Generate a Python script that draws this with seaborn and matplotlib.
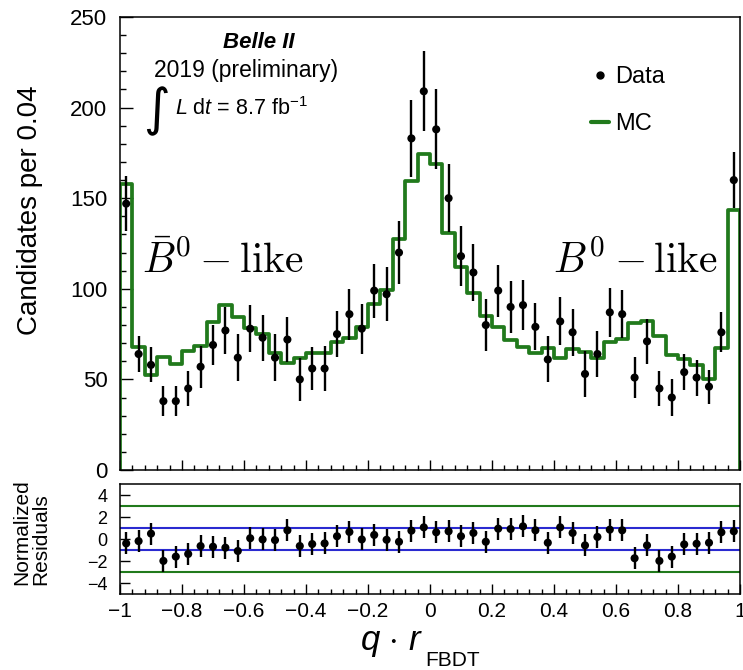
import numpy as np
import pandas as pd
import matplotlib
matplotlib.use("Agg")
import matplotlib.pyplot as plt
import seaborn as sns
from matplotlib.lines import Line2D
from matplotlib.ticker import MultipleLocator, FixedLocator

# ---- binning of q*r_FBDT ----
bin_lo, bin_hi, n_bins = -1.0, 1.0, 50

# ---- candidates per bin (data) and their uncertainties ----
data_counts = [147, 64, 58, 38, 38, 45, 57, 69, 77, 62,
               78, 73, 62, 72, 50, 56, 56, 75, 86, 78,
               99, 97, 120, 183, 209, 188, 150, 118, 109, 80,
               99, 90, 91, 79, 61, 82, 76, 53, 64, 87,
               86, 51, 71, 45, 40, 54, 51, 46, 76, 160]
data_errors = [15.2, 10.1, 9.7, 8.3, 8.3, 9.9, 11.5, 11.2, 12.9, 12.9,
               12.9, 12.7, 12.9, 12.2, 11.8, 11.8, 12.5, 12.7, 14.0, 13.8,
               14.9, 14.9, 17.3, 21.2, 22.1, 22.1, 18.8, 16.4, 15.8, 14.5,
               14.4, 14.3, 13.6, 12.9, 12.7, 13.2, 12.9, 12.5, 12.5, 13.6,
               13.1, 11.5, 12.5, 9.8, 10.4, 10.1, 9.9, 9.4, 11.0, 15.6]

# ---- simulated expectation per bin ----
mc_counts = [157.8, 68.1, 52.4, 62.5, 58.5, 65.7, 68.4, 81.5, 91.1, 84.3,
             78.2, 74.9, 64.4, 58.9, 62.0, 64.8, 64.8, 70.8, 72.7, 78.7,
             91.4, 99.3, 127.5, 159.7, 174.4, 168.9, 131.0, 112.2, 97.5, 85.0,
             79.1, 71.7, 67.7, 64.4, 67.5, 62.0, 66.6, 65.0, 61.6, 70.8,
             72.4, 81.0, 82.3, 73.8, 63.5, 61.3, 57.9, 50.0, 67.2, 143.5]

# ---- normalized residuals (data - MC) / sigma ----
residuals = [-0.40, -0.19, 0.49, -1.99, -1.60, -1.36, -0.64, -0.70, -0.79, -1.09,
             0.07, -0.04, -0.10, 0.79, -0.64, -0.46, -0.40, 0.25, 0.64, -0.04,
             0.37, -0.07, -0.25, 0.76, 1.06, 0.61, 0.70, 0.25, 0.55, -0.25,
             0.94, 0.91, 1.15, 0.79, -0.34, 1.06, 0.55, -0.58, 0.19, 0.85,
             0.79, -1.75, -0.58, -1.99, -1.60, -0.49, -0.43, -0.34, 0.61, 0.70]
resid_err = 1.0
resid_bands = [1, 3]

main_yticks = [0, 50, 100, 150, 200, 250]
resid_yticks = [-4, -2, 0, 2, 4]
x_ticks = [-1, -0.8, -0.6, -0.4, -0.2, 0, 0.2, 0.4, 0.6, 0.8, 1]
x_ticklabels = ["\u22121", "\u22120.8", "\u22120.6", "\u22120.4", "\u22120.2", "0",
                "0.2", "0.4", "0.6", "0.8", "1"]

edges = np.linspace(bin_lo, bin_hi, n_bins + 1)
centers = 0.5 * (edges[:-1] + edges[1:])
df = pd.DataFrame({"x": centers, "data": data_counts, "err": data_errors,
                   "mc": mc_counts, "resid": residuals})

sns.set_theme(style="ticks")
plt.rcParams.update({
    "font.family": ["Liberation Sans", "DejaVu Sans"],
    "mathtext.fontset": "custom",
    "mathtext.rm": "Liberation Sans",
    "mathtext.it": "Liberation Sans:italic",
    "mathtext.bf": "Liberation Sans:bold",
    "axes.edgecolor": "black",
    "axes.linewidth": 1.1,
    "xtick.color": "black",
    "ytick.color": "black",
    "text.color": "black",
})

GREEN = "#217a1c"
BLUE = "#2a2ad0"
W, H = 743, 670


def fx(px):
    return px / W


def fy(py):
    return 1 - py / H


fig = plt.figure(figsize=(W / 100, H / 100), dpi=100)
ax = fig.add_axes([fx(120), fy(470), fx(740) - fx(120), fy(17) - fy(470)])
rax = fig.add_axes([fx(120), fy(594), fx(740) - fx(120), fy(484) - fy(594)])

# ---- main panel ----
sns.histplot(data=df, x="x", weights="mc", bins=n_bins, binrange=(bin_lo, bin_hi),
             element="step", fill=False, color=GREEN, linewidth=2.7, ax=ax, zorder=2)
ax.vlines([edges[0], edges[-1]], 0, [mc_counts[0], mc_counts[-1]],
          color=GREEN, linewidth=2.7, zorder=2)
ax.errorbar(df["x"], df["data"], yerr=df["err"], fmt="none",
            ecolor="black", elinewidth=1.7, capsize=0, zorder=3)
sns.scatterplot(data=df, x="x", y="data", color="black", s=34,
                edgecolor="none", ax=ax, zorder=4, legend=False)

ax.set_xlim(bin_lo, bin_hi)
ax.set_ylim(main_yticks[0], main_yticks[-1])
ax.set_xlabel("")
ax.set_ylabel("")
ax.yaxis.set_major_locator(FixedLocator(main_yticks))
ax.yaxis.set_minor_locator(MultipleLocator(10))
ax.xaxis.set_major_locator(FixedLocator(x_ticks))
ax.xaxis.set_minor_locator(MultipleLocator(0.04))
ax.tick_params(axis="y", which="major", direction="in", length=9, width=1,
               labelsize=16, pad=9, right=False)
ax.tick_params(axis="y", which="minor", direction="in", length=4.5, width=1, right=False)
ax.tick_params(axis="x", which="major", direction="in", length=7, width=1,
               labelbottom=False, top=False)
ax.tick_params(axis="x", which="minor", direction="in", length=3.6, width=1, top=False)
for s in ax.spines.values():
    s.set_visible(True)
    s.set_color("black")

handles = [Line2D([], [], marker="o", color="black", linestyle="none", markersize=5),
           Line2D([], [], color=GREEN, linewidth=3)]
ax.legend(handles, ["Data", "MC"], frameon=False, loc="upper left",
          bbox_to_anchor=(0.745, 0.912), fontsize=17, handlelength=0.75,
          handletextpad=0.25, labelspacing=1.05, borderaxespad=0)

fig.text(fx(259), fy(43), "Belle II", fontsize=16, fontweight="bold",
         fontstyle="italic", ha="center", va="center")
fig.text(fx(246), fy(71), "2019 (preliminary)", fontsize=16.5,
         ha="center", va="center")
fig.text(fx(156), fy(111), "\u222b", fontsize=37, family="DejaVu Sans",
         ha="center", va="center")
fig.text(fx(175), fy(115), r"$L$ d$t$ = 8.7 fb$^{-1}$", fontsize=15.5,
         ha="left", va="baseline")
fig.text(fx(142), fy(273), r"$\bar{B}^0 - \mathrm{like}$", fontsize=30,
         math_fontfamily="cm", ha="left", va="baseline")
fig.text(fx(553), fy(273), r"$B^0 - \mathrm{like}$", fontsize=30,
         math_fontfamily="cm", ha="left", va="baseline")

fig.text(fx(30), fy(210), "Candidates per 0.04", fontsize=20,
         rotation=90, ha="center", va="center")

# ---- residual panel ----
for b in resid_bands:
    col = BLUE if b == 1 else GREEN
    rax.axhline(b, color=col, linewidth=1.5, zorder=1)
    rax.axhline(-b, color=col, linewidth=1.5, zorder=1)
rax.errorbar(df["x"], df["resid"], yerr=resid_err, fmt="none",
             ecolor="black", elinewidth=1.7, capsize=0, zorder=3)
sns.scatterplot(data=df, x="x", y="resid", color="black", s=34,
                edgecolor="none", ax=rax, zorder=4, legend=False)
rax.set_xlim(bin_lo, bin_hi)
rax.set_ylim(-5, 5)
rax.set_xlabel("")
rax.set_ylabel("")
rax.yaxis.set_major_locator(FixedLocator(resid_yticks))
rax.set_yticklabels(["\u22124", "\u22122", "0", "2", "4"])
rax.xaxis.set_major_locator(FixedLocator(x_ticks))
rax.set_xticklabels(x_ticklabels)
rax.xaxis.set_minor_locator(MultipleLocator(0.04))
rax.tick_params(axis="y", which="major", direction="in", length=7, width=1,
                labelsize=13, pad=9, right=False)
rax.tick_params(axis="x", which="major", direction="in", length=7, width=1,
                labelsize=15, pad=6, top=False)
rax.tick_params(axis="x", which="minor", direction="in", length=3.6, width=1, top=False)
for s in rax.spines.values():
    s.set_visible(True)
    s.set_color("black")

fig.text(fx(31), fy(532), "Normalized\nResiduals", fontsize=15, rotation=90,
         ha="center", va="center", multialignment="left", linespacing=1.0)

fig.text(fx(360), fy(650), r"$q$ $\cdot$ $r$", fontsize=25, ha="left", va="baseline")
fig.text(fx(425), fy(666), "FBDT", fontsize=15, ha="left", va="baseline")

fig.savefig("out.png", dpi=100, facecolor="white")
